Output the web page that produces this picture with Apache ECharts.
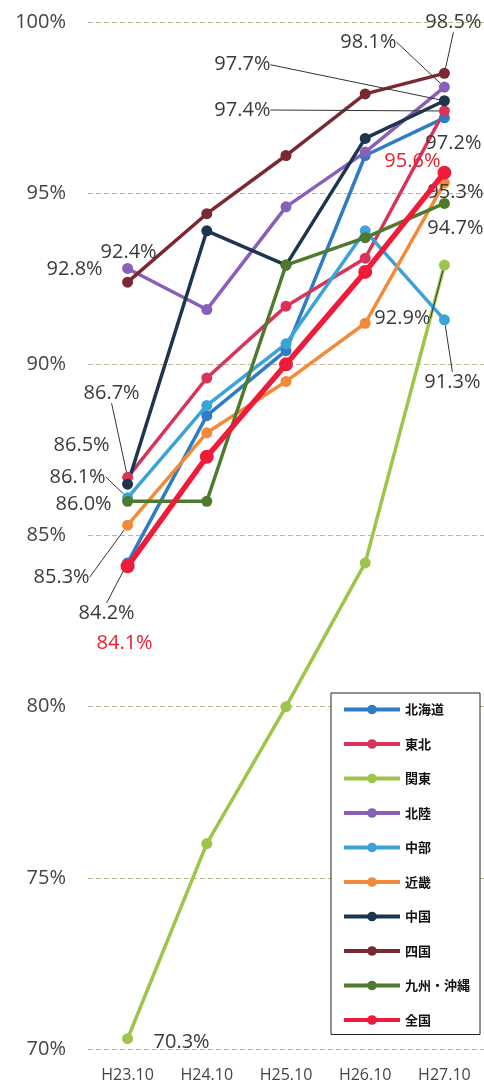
<!DOCTYPE html>
<html><head><meta charset="utf-8">
<script src="https://cdn.jsdelivr.net/npm/echarts@6/dist/echarts.min.js"></script>
<style>html,body{margin:0;padding:0;background:#fff;}#c{width:484px;height:1086px;}</style>
</head><body><div id="c"></div>
<script>
const categories = ['H23.10','H24.10','H25.10','H26.10','H27.10'];
const yTicks = [70, 75, 80, 85, 90, 95, 100];
const seriesNames = ['北海道','東北','関東','北陸','中部','近畿','中国','四国','九州・沖縄','全国'];
const hokkaido = [84.2, 88.5, 90.4, 96.1, 97.2];
const tohoku   = [86.7, 89.6, 91.7, 93.1, 97.4];
const kanto    = [70.3, 76.0, 80.0, 84.2, 92.9];
const hokuriku = [92.8, 91.6, 94.6, 96.2, 98.1];
const chubu    = [86.1, 88.8, 90.6, 93.9, 91.3];
const kinki    = [85.3, 88.0, 89.5, 91.2, 95.3];
const chugoku  = [86.5, 93.9, 92.9, 96.6, 97.7];
const shikoku  = [92.4, 94.4, 96.1, 97.9, 98.5];
const kyushu   = [86.0, 86.0, 92.9, 93.7, 94.7];
const zenkoku  = [84.1, 87.3, 90.0, 92.7, 95.6];
const seriesValues = [hokkaido, tohoku, kanto, hokuriku, chubu, kinki, chugoku, shikoku, kyushu, zenkoku];

const colors = ['#2f7cc4','#d8345a','#9cc54a','#8a5fb8','#3aa3d8','#f28a3a','#1e3550','#7a2832','#4d7a2c','#ee1c3a'];
// label offsets (dx, dy from point centre) and whether a leader line is drawn
const labelSpec = {
  0: {0: [-21, 50, true], 4: [9, 25, false]},
  1: {0: [-16, -84, true], 4: [-202, -1, true]},
  2: {0: [54, 4, false], 4: [-42, 53, true]},
  3: {0: [-53, 1, false], 4: [-76, -45, true]},
  4: {0: [-50, -21, true], 4: [8, 62, true]},
  5: {0: [-66, 52, true], 4: [11, 9, false]},
  6: {0: [-46, -39, false], 4: [-202, -36, true]},
  7: {0: [1, -30, false], 4: [9, -51, true]},
  8: {0: [-44, 3, false], 4: [11, 25, false]},
  9: {0: [-3, 77, false], 4: [-32, -11, false]}
};
const FONT = "'Open Sans', 'Noto Sans CJK JP', sans-serif";

const series = seriesNames.map((name, si) => {
  const isAll = si === 9;
  const spec = labelSpec[si] || {};
  return {
    name, type: 'line',
    data: seriesValues[si].map((v, di) => {
      const s = spec[di];
      if (!s) return v;
      return {
        value: v,
        label: {show: true, position: 'inside'},
        labelLine: {show: s[2]}
      };
    }),
    symbol: 'circle',
    symbolSize: isAll ? 14 : 11,
    lineStyle: {width: isAll ? 5.5 : 3.5, color: colors[si]},
    itemStyle: {color: colors[si]},
    z: isAll ? 5 : 2,
    label: {
      show: false,
      fontFamily: FONT, fontSize: 20,
      color: isAll ? '#e8202f' : '#3a3a3a',
      formatter: p => (typeof p.value === 'number' ? p.value : p.data.value).toFixed(1) + '%'
    },
    labelLine: {lineStyle: {color: '#333', width: 1}, smooth: false, length2: 0},
    labelLayout: function (params) {
      const s = (labelSpec[params.seriesIndex] || {})[params.dataIndex];
      if (!s) return {};
      return {dx: s[0], dy: s[1]};
    },
    emphasis: {disabled: true},
    animation: false
  };
});

const chart = echarts.init(document.getElementById('c'), null, {renderer: 'canvas'});
chart.setOption({
  animation: false,
  color: colors,
  grid: {left: 88, right: 0, top: 22, bottom: 37, containLabel: false},
  legend: {
    orient: 'vertical', left: 331, top: 693,
    padding: [10, 10, 8, 11],
    itemWidth: 56, itemHeight: 12, itemGap: 21.5,
    borderColor: '#222', borderWidth: 1,
    backgroundColor: '#fff',
    lineStyle: {width: 4},
    textStyle: {fontFamily: "'Noto Sans CJK JP', sans-serif", fontSize: 13, color: '#111', fontWeight: 'bold'},
    data: seriesNames
  },
  xAxis: {
    type: 'category', data: categories, boundaryGap: true,
    axisLine: {show: false}, axisTick: {show: false},
    axisLabel: {fontFamily: FONT, fontSize: 16, color: '#444', margin: 18}
  },
  yAxis: {
    type: 'value', min: yTicks[0], max: yTicks[yTicks.length - 1], interval: 5,
    axisLine: {show: false}, axisTick: {show: false},
    axisLabel: {fontFamily: FONT, fontSize: 20, color: '#444', margin: 22, formatter: '{value}%'},
    splitLine: {lineStyle: {color: '#bdb694', type: [5, 3], width: 1}}
  },
  series
});
</script>
</body></html>
